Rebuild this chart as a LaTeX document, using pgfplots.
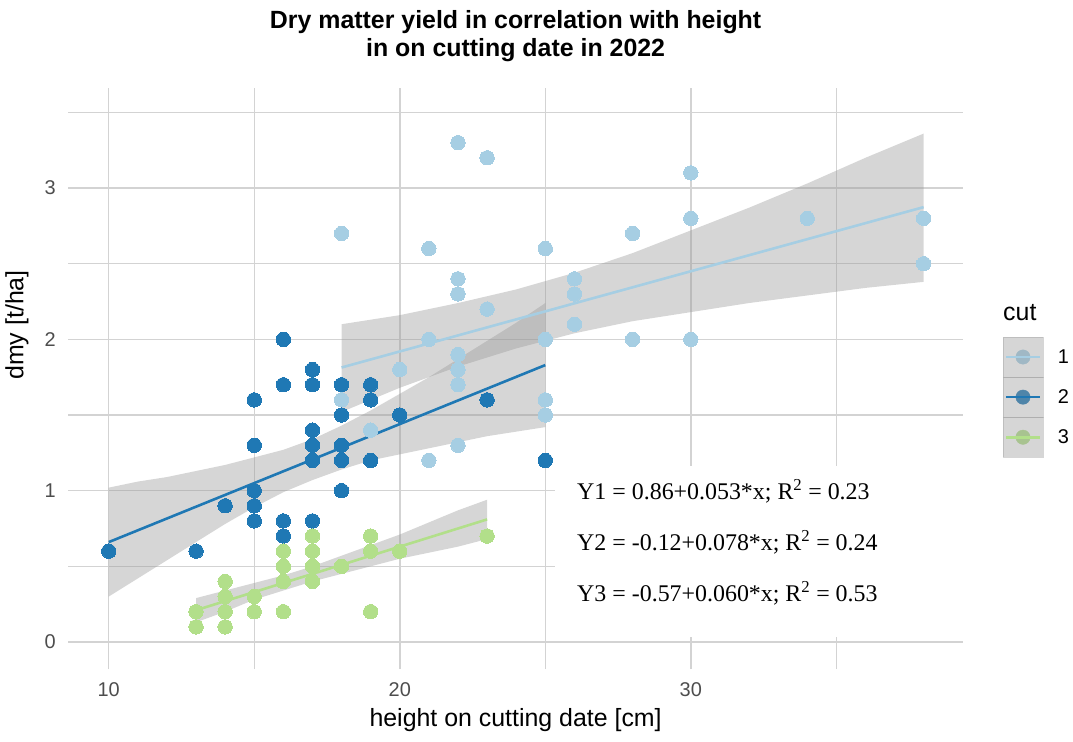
\documentclass[border=0pt]{standalone}
\usepackage{fontspec}
\setmainfont{Liberation Sans}
\newfontfamily\annfont{Liberation Serif}
\usepackage{pgfplots}
\usepackage{pgfplotstable}
\pgfplotsset{compat=1.18}
\usepgfplotslibrary{fillbetween}

\definecolor{cutA}{HTML}{A6CEE3}
\definecolor{cutB}{HTML}{1F78B4}
\definecolor{cutC}{HTML}{B2DF8A}
\definecolor{ribbon}{HTML}{999999}
\definecolor{gridc}{HTML}{D3D3D3}
\definecolor{tickc}{HTML}{4D4D4D}

% dry matter yield [t/ha] against height [cm], one table per cut
\pgfplotstableread{
x y
18 2.7
18 1.6
19 1.4
20 1.8
21 2.6
21 2.0
21 1.2
22 3.3
22 2.4
22 2.3
22 1.9
22 1.8
22 1.7
22 1.3
23 3.2
23 2.2
25 2.6
25 2.0
25 1.6
25 1.5
26 2.4
26 2.3
26 2.1
28 2.7
28 2.0
30 3.1
30 2.8
30 2.0
34 2.8
38 2.8
38 2.5
}\cutone
\pgfplotstableread{
x y
10 0.6
13 0.6
14 0.9
15 1.6
15 1.3
15 1.0
15 0.9
15 0.8
16 2.0
16 1.7
16 0.8
16 0.7
17 1.8
17 1.7
17 1.4
17 1.3
17 1.2
17 0.8
18 1.7
18 1.5
18 1.3
18 1.2
18 1.0
19 1.7
19 1.6
19 1.2
20 1.5
23 1.6
25 1.2
}\cuttwo
\pgfplotstableread{
x y
13 0.2
13 0.1
14 0.4
14 0.3
14 0.2
14 0.1
15 0.3
15 0.2
16 0.6
16 0.5
16 0.4
16 0.2
17 0.7
17 0.6
17 0.5
17 0.4
18 0.5
19 0.7
19 0.6
19 0.2
20 0.6
23 0.7
}\cutthree

% 95% confidence bands of the linear fits
\pgfplotstableread{
x lo hi
18 1.52 2.10
20 1.68 2.16
22 1.82 2.24
24 1.94 2.33
26 2.04 2.44
28 2.12 2.57
30 2.18 2.72
32 2.24 2.87
34 2.29 3.03
36 2.34 3.20
38 2.38 3.36
}\bandone
\pgfplotstableread{
x lo hi
10 0.30 1.02
11 0.42 1.06
12 0.54 1.09
13 0.66 1.13
14 0.78 1.17
15 0.89 1.22
16 0.99 1.27
17 1.07 1.34
18 1.14 1.43
19 1.20 1.53
20 1.24 1.64
21 1.28 1.75
22 1.32 1.87
23 1.36 1.99
24 1.39 2.11
25 1.42 2.24
}\bandtwo
\pgfplotstableread{
x lo hi
13 0.13 0.29
14 0.20 0.34
15 0.28 0.39
16 0.34 0.44
17 0.40 0.50
18 0.45 0.57
19 0.50 0.64
20 0.55 0.71
21 0.59 0.79
22 0.63 0.87
23 0.68 0.94
}\bandthree

\pgfplotsset{
  pts/.style={color=#1, only marks, mark=*, mark size=7.2bp,
    mark options={solid, fill=#1, draw=#1, line width=0pt}, forget plot},
  fitline/.style={#1, line width=2.6bp, forget plot},
  keyimg/.style={legend image code/.code={
    \fill[#1] (19.75bp,0) circle[radius=7.2bp];
    \fill[ribbon, opacity=0.4] (0,-19.85bp) rectangle (39.5bp,19.85bp);
    \draw[#1, line width=2.6bp] (3bp,0) -- (36.5bp,0);
  }},
}

\begin{document}
\begin{tikzpicture}
\begin{axis}[
  at={(68bp,72.8bp)}, anchor=south west,
  scale only axis, width=895.2bp, height=581bp,
  xmin=8.6, xmax=39.36, ymin=-0.18, ymax=3.66,
  xtick={10,20,30}, ytick={0,1,2,3},
  minor xtick={15,25,35}, minor ytick={0.5,1.5,2.5,3.5},
  xmajorgrids, ymajorgrids, xminorgrids, yminorgrids,
  major grid style={gridc, line width=1.5bp},
  minor grid style={gridc, line width=1.5bp},
  axis line style={draw=none},
  major tick length=0pt, minor tick length=0pt,
  /pgf/number format/assume math mode=true,
  tick label style={font=\fontsize{20}{24}\selectfont, text=tickc},
  xticklabel style={anchor=center, yshift=-20.8bp, inner sep=0pt},
  yticklabel style={anchor=east, xshift=-12bp, inner sep=0pt},
  legend cell align=left,
  legend style={at={(1.0445,0.5718)}, anchor=north west, draw=none, fill=none,
    inner sep=0pt, outer sep=0pt, row sep=0pt, column sep=15bp,
    font=\fontsize{20}{24}\selectfont, nodes={inner sep=0pt}},
]
% observations
\addplot[pts=cutA] table[x=x, y=y] {\cutone};
\addplot[pts=cutB] table[x=x, y=y] {\cuttwo};
\addplot[pts=cutC] table[x=x, y=y] {\cutthree};

% cut 1: band and fit
\addplot[draw=none, name path=hiA, forget plot] table[x=x, y=hi] {\bandone};
\addplot[draw=none, name path=loA, forget plot] table[x=x, y=lo] {\bandone};
\addplot[ribbon, fill opacity=0.4, draw=none, forget plot] fill between[of=hiA and loA];
\addplot[fitline=cutA] coordinates {(18,1.814) (38,2.874)};

% cut 2: band and fit
\addplot[draw=none, name path=hiB, forget plot] table[x=x, y=hi] {\bandtwo};
\addplot[draw=none, name path=loB, forget plot] table[x=x, y=lo] {\bandtwo};
\addplot[ribbon, fill opacity=0.4, draw=none, forget plot] fill between[of=hiB and loB];
\addplot[fitline=cutB] coordinates {(10,0.66) (25,1.83)};

% cut 3: band and fit
\addplot[draw=none, name path=hiC, forget plot] table[x=x, y=hi] {\bandthree};
\addplot[draw=none, name path=loC, forget plot] table[x=x, y=lo] {\bandthree};
\addplot[ribbon, fill opacity=0.4, draw=none, forget plot] fill between[of=hiC and loC];
\addplot[fitline=cutC] coordinates {(13,0.21) (23,0.81)};

% equations
\fill[white] (axis cs:25.32,0.03) rectangle (axis cs:39.36,1.16);
\begin{scope}[every node/.style={anchor=west, inner sep=0pt, font=\annfont\fontsize{24}{28}\selectfont}]
\node at (axis cs:26.09,0.995) {Y1 = 0.86+0.053*x; R\textsuperscript{2} = 0.23};
\node at (axis cs:26.09,0.658) {Y2 = -0.12+0.078*x; R\textsuperscript{2} = 0.24};
\node at (axis cs:26.09,0.321) {Y3 = -0.57+0.060*x; R\textsuperscript{2} = 0.53};
\end{scope}

\addlegendimage{keyimg=cutA}\addlegendentry{1}
\addlegendimage{keyimg=cutB}\addlegendentry{2}
\addlegendimage{keyimg=cutC}\addlegendentry{3}
\end{axis}

\node[font=\bfseries\fontsize{25}{28}\selectfont, align=center] at (515.6bp,706bp)
  {Dry matter yield in correlation with height\\in on cutting date in 2022};
\node[font=\fontsize{25}{30}\selectfont] at (515.6bp,22bp) {height on cutting date [cm]};
\node[font=\fontsize{25}{30}\selectfont, rotate=90] at (17bp,417bp) {dmy [t/ha]};
\node[font=\fontsize{25}{30}\selectfont, anchor=west, inner sep=0pt] at (1003bp,429bp) {cut};
\pgfresetboundingbox
\path (0,0) rectangle (1073bp,742bp);
\end{tikzpicture}
\end{document}
